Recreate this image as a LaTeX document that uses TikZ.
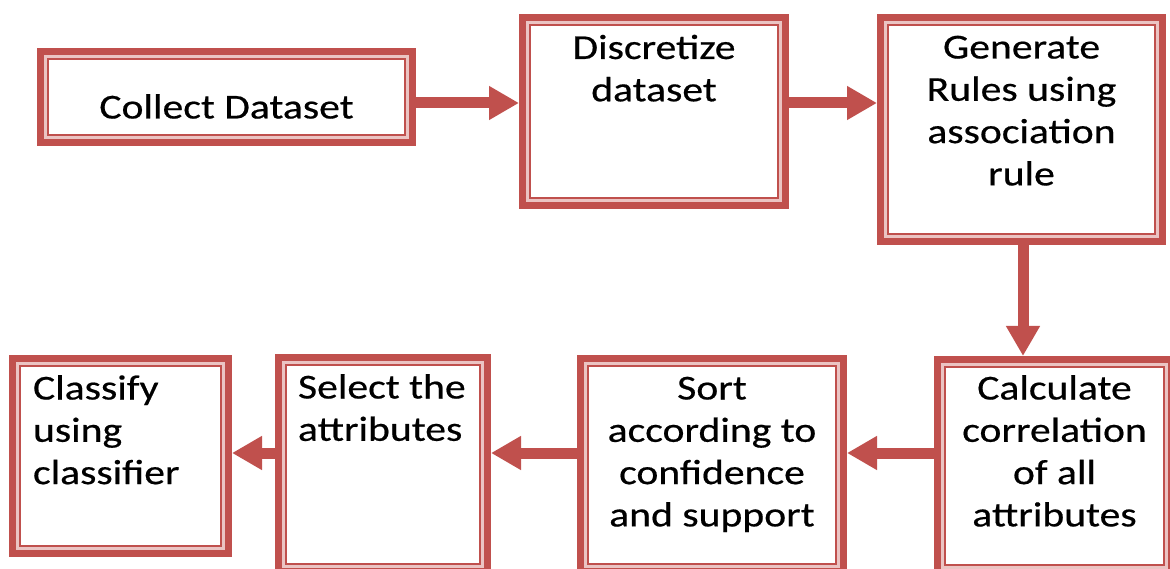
\documentclass[tikz,border=0pt]{standalone}
\usepackage{fontspec}
\setmainfont{Carlito}[FakeStretch=1.19,FakeBold=0.5]
\usetikzlibrary{arrows.meta}

\definecolor{boxred}{HTML}{C0504D}
\definecolor{boxpink}{HTML}{EBC4C3}

% #1 width, #2 height, #3 alignment, #4 first-baseline depth, #5 text
\newcommand{\boxtext}[5]{%
  \parbox[c][#2][t]{#1}{#3\fontsize{35}{42.3}\selectfont\rule{0pt}{#4}#5}}

\tikzset{
  stepbox/.style={rectangle, inner sep=0pt, outer sep=0pt, anchor=north west,
    fill=boxpink,
    path picture={
      \draw[boxred, line width=7pt]
        ([shift={(3.5pt,-3.5pt)}]path picture bounding box.north west) rectangle
        ([shift={(-3.5pt,3.5pt)}]path picture bounding box.south east);
      \fill[white]
        ([shift={(10pt,-10pt)}]path picture bounding box.north west) rectangle
        ([shift={(-10pt,10pt)}]path picture bounding box.south east);
      \draw[boxred, line width=2.4pt]
        ([shift={(11.2pt,-11.2pt)}]path picture bounding box.north west) rectangle
        ([shift={(-11.2pt,11.2pt)}]path picture bounding box.south east);
    }},
  flow/.style={draw=boxred, line width=11pt,
    -{Triangle[length=30pt,width=32pt]}}
}

\begin{document}
\begin{tikzpicture}[x=1pt,y=1pt]
\useasboundingbox (0,0) rectangle (1170,568);
\clip (0,0) rectangle (1170,568);

% process steps
\node[stepbox] (collect) at (37,520)
  {\boxtext{379pt}{98pt}{\centering}{70.5pt}{Collect Dataset}};
\node[stepbox] (discretize) at (519,554)
  {\boxtext{270pt}{195pt}{\centering}{45pt}{Discretize\\dataset}};
\node[stepbox] (generate) at (877,554)
  {\boxtext{289pt}{231pt}{\centering}{44.5pt}{Generate\\Rules using\\association\\rule}};
\node[stepbox] (calculate) at (934,212)
  {\boxtext{241pt}{220pt}{\centering}{43.5pt}{Calculate\\correlation\\of all\\attributes}};
\node[stepbox] (sort) at (577,213)
  {\boxtext{270pt}{220pt}{\centering}{44.5pt}{Sort\\according to\\confidence\\and support}};
\node[stepbox] (select) at (275,214)
  {\boxtext{216pt}{221pt}{\raggedright\leftskip=23pt}{44.5pt}{Select the\\attributes}};
\node[stepbox] (classify) at (9,213)
  {\boxtext{223pt}{202pt}{\raggedright\leftskip=24pt}{44.5pt}{Classify\\using\\classifier}};

% lanes for the connectors
\coordinate (laneTop) at (0,465);
\coordinate (laneBottom) at (0,115);
\coordinate (laneDown) at (1023,0);

\draw[flow] (collect.east |- laneTop) -- (discretize.west |- laneTop);
\draw[flow] (discretize.east |- laneTop) -- (generate.west |- laneTop);
\draw[flow] (generate.south -| laneDown) -- (calculate.north -| laneDown);
\draw[flow] (calculate.west |- laneBottom) -- (sort.east |- laneBottom);
\draw[flow] (sort.west |- laneBottom) -- (select.east |- laneBottom);
\draw[flow] (select.west |- laneBottom) -- (classify.east |- laneBottom);
\end{tikzpicture}
\end{document}
